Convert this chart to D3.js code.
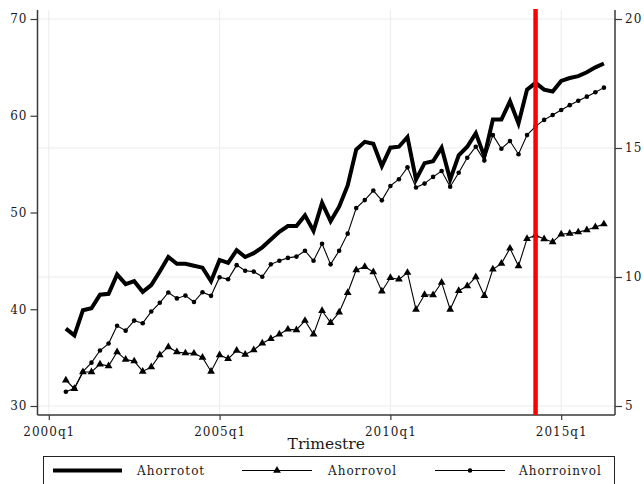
<!DOCTYPE html>
<html><head><meta charset="utf-8">
<script src="https://cdn.jsdelivr.net/npm/d3@7"></script>
<style>
body{margin:0;background:#fff}
svg{display:block}
text{font-family:"DejaVu Serif",serif;fill:#1a1a1a}
</style>
</head><body><svg id="c" width="644" height="484"></svg>
<script>
const quarters = [
"2000q3","2000q4",
"2001q1","2001q2","2001q3","2001q4","2002q1","2002q2","2002q3","2002q4",
"2003q1","2003q2","2003q3","2003q4","2004q1","2004q2","2004q3","2004q4",
"2005q1","2005q2","2005q3","2005q4","2006q1","2006q2","2006q3","2006q4",
"2007q1","2007q2","2007q3","2007q4","2008q1","2008q2","2008q3","2008q4",
"2009q1","2009q2","2009q3","2009q4","2010q1","2010q2","2010q3","2010q4",
"2011q1","2011q2","2011q3","2011q4","2012q1","2012q2","2012q3","2012q4",
"2013q1","2013q2","2013q3","2013q4","2014q1","2014q2","2014q3","2014q4",
"2015q1","2015q2","2015q3","2015q4","2016q1","2016q2"];
const ahorrotot = [38.0,37.3,39.9,40.1,41.5,41.6,43.6,42.6,42.9,41.8,
42.5,43.9,45.4,44.7,44.7,44.5,44.3,42.9,45.1,44.8,
46.1,45.4,45.8,46.4,47.2,48.0,48.6,48.6,49.7,48.1,
51.0,49.1,50.6,52.8,56.5,57.3,57.1,54.8,56.7,56.8,
57.8,53.4,55.1,55.3,56.7,53.4,55.9,56.8,58.2,55.8,
59.6,59.6,61.5,59.2,62.7,63.4,62.7,62.5,63.6,63.9,
64.1,64.5,65.0,65.4];
const ahorrovol = [6.00,5.67,6.32,6.32,6.62,6.55,7.09,6.80,6.74,6.34,
6.51,6.98,7.29,7.09,7.05,7.04,6.88,6.34,6.98,6.83,
7.15,7.00,7.17,7.43,7.61,7.78,7.97,7.95,8.31,7.78,
8.69,8.23,8.63,9.39,10.27,10.40,10.19,9.45,9.97,9.91,
10.17,8.74,9.31,9.30,9.79,8.74,9.47,9.65,10.00,9.27,
10.30,10.52,11.11,10.43,11.48,11.62,11.47,11.36,11.66,11.69,
11.74,11.82,11.94,12.05];
const ahorroinvol = [5.55,5.69,6.33,6.68,7.15,7.42,8.11,7.92,8.31,8.21,
8.66,9.00,9.40,9.17,9.28,9.03,9.41,9.27,9.99,9.91,
10.46,10.24,10.21,10.01,10.49,10.63,10.74,10.79,11.02,10.63,
11.29,10.49,11.02,11.68,12.67,12.98,13.35,12.97,13.53,13.79,
14.25,13.47,13.62,13.88,14.11,13.50,14.04,14.62,15.05,14.52,
15.50,14.97,15.27,14.76,15.50,15.84,16.09,16.28,16.47,16.66,
16.83,16.99,17.16,17.34];
const xTickLabels = ["2000q1","2005q1","2010q1","2015q1"];
const leftTicks = [30,40,50,60,70];
const rightTicks = [5,10,15,20];
const markerQuarter = "2014q2";
const xTitle = "Trimestre";
const legendLabels = ["Ahorrotot","Ahorrovol","Ahorroinvol"];

const qIndex = s => (+s.slice(0,4) - 2000) * 4 + (+s.slice(5) - 1);

const svg = d3.select("#c");
const L = 37.5, R = 615, T = 10, B = 415;
const x = d3.scaleLinear().domain([-1.32, 66.3]).range([L, R]);
const yL = d3.scaleLinear().domain([30, 70]).range([406, 19]);
const yR = d3.scaleLinear().domain([5, 20]).range([406, 19]);
const axisCol = "#3a3a3a";
const gridCol = "#ececec";

// gridlines
svg.append("g").selectAll("line").data(rightTicks).join("line")
  .attr("x1", L).attr("x2", R).attr("y1", d => yR(d)).attr("y2", d => yR(d))
  .attr("stroke", gridCol).attr("stroke-width", 1);
svg.append("g").selectAll("line").data(xTickLabels).join("line")
  .attr("x1", d => x(qIndex(d))).attr("x2", d => x(qIndex(d))).attr("y1", T).attr("y2", B)
  .attr("stroke", gridCol).attr("stroke-width", 1);

// axes
const tickFmt = d3.format("d");
const gL = svg.append("g").attr("transform", `translate(${L},0)`)
  .call(d3.axisLeft(yL).tickValues(leftTicks).tickSize(7).tickPadding(3).tickFormat(tickFmt));
const gR = svg.append("g").attr("transform", `translate(${R},0)`)
  .call(d3.axisRight(yR).tickValues(rightTicks).tickSize(7).tickPadding(3).tickFormat(tickFmt));
const gB = svg.append("g").attr("transform", `translate(0,${B})`)
  .call(d3.axisBottom(x).tickValues(xTickLabels.map(qIndex)).tickSize(5).tickPadding(7)
        .tickFormat((d, i) => xTickLabels[i]));
[gL, gR, gB].forEach(g => {
  g.select(".domain").remove();
  g.selectAll("line").attr("stroke", axisCol).attr("stroke-width", 1.2);
  g.selectAll("text").style("font-family", "'DejaVu Serif',serif").style("font-size", "12px")
    .style("letter-spacing", "1px").attr("fill", "#1a1a1a");
});
// axis lines
svg.append("line").attr("x1", L).attr("x2", L).attr("y1", T).attr("y2", B).attr("stroke", axisCol).attr("stroke-width", 1.5);
svg.append("line").attr("x1", R).attr("x2", R).attr("y1", T).attr("y2", B).attr("stroke", axisCol).attr("stroke-width", 1.5);
svg.append("line").attr("x1", L).attr("x2", R).attr("y1", B).attr("y2", B).attr("stroke", axisCol).attr("stroke-width", 1.5);

// x title
svg.append("text").attr("x", (L + R) / 2).attr("y", 449).attr("text-anchor", "middle")
  .style("font-size", "15.5px").text(xTitle);

// data
const pts = arr => quarters.map((q, i) => [qIndex(q), arr[i]]);
const lineL = d3.line().x(d => x(d[0])).y(d => yL(d[1]));
const lineR = d3.line().x(d => x(d[0])).y(d => yR(d[1]));

svg.append("path").datum(pts(ahorrotot)).attr("d", lineL)
  .attr("fill", "none").attr("stroke", "#000").attr("stroke-width", 4).attr("stroke-linejoin", "miter");
svg.append("path").datum(pts(ahorrovol)).attr("d", lineR)
  .attr("fill", "none").attr("stroke", "#000").attr("stroke-width", 1.1);
const tri = d3.symbol().type(d3.symbolTriangle).size(26);
svg.append("g").selectAll("path").data(pts(ahorrovol)).join("path")
  .attr("d", tri).attr("transform", d => `translate(${x(d[0])},${yR(d[1])})`).attr("fill", "#000");
svg.append("path").datum(pts(ahorroinvol)).attr("d", lineR)
  .attr("fill", "none").attr("stroke", "#000").attr("stroke-width", 1.1);
svg.append("g").selectAll("circle").data(pts(ahorroinvol)).join("circle")
  .attr("cx", d => x(d[0])).attr("cy", d => yR(d[1])).attr("r", 2.3).attr("fill", "#000");

// red vertical line
svg.append("line").attr("x1", x(qIndex(markerQuarter))).attr("x2", x(qIndex(markerQuarter)))
  .attr("y1", T - 1).attr("y2", B).attr("stroke", "#ff0000").attr("stroke-width", 4.5);

// legend
const lg = svg.append("g");
lg.append("rect").attr("x", 43.5).attr("y", 456.5).attr("width", 571).attr("height", 30)
  .attr("fill", "#fff").attr("stroke", "#222").attr("stroke-width", 1);
const items = [
  {x1: 53, x2: 122, tx: 137, w: 4, mk: null},
  {x1: 242, x2: 312, tx: 328, w: 1.1, mk: "tri"},
  {x1: 435, x2: 505, tx: 519, w: 1.1, mk: "dot"}
];
const ly = 470.5;
items.forEach((it, i) => {
  lg.append("line").attr("x1", it.x1).attr("x2", it.x2).attr("y1", ly).attr("y2", ly)
    .attr("stroke", "#000").attr("stroke-width", it.w);
  const cx = (it.x1 + it.x2) / 2;
  if (it.mk === "tri") lg.append("path").attr("d", tri).attr("transform", `translate(${cx},${ly})`).attr("fill", "#000");
  if (it.mk === "dot") lg.append("circle").attr("cx", cx).attr("cy", ly).attr("r", 2.3).attr("fill", "#000");
  lg.append("text").attr("x", it.tx).attr("y", ly + 4.5).style("font-size", "12px").style("letter-spacing", "1px")
    .text(legendLabels[i]);
});
</script>
</body></html>
